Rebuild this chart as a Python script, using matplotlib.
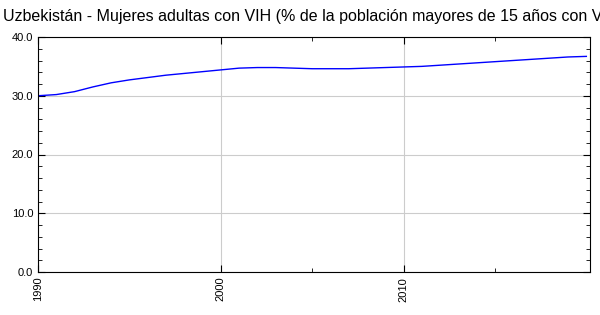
import matplotlib
matplotlib.use('Agg')
import matplotlib.pyplot as plt
from matplotlib.ticker import MultipleLocator

plt.rcParams['font.family'] = ['Liberation Sans', 'DejaVu Sans']

# datos
anios = list(range(1990, 2021))
valores = [30.0, 30.2, 30.7, 31.5, 32.2, 32.7, 33.1, 33.5, 33.8, 34.1,
           34.4, 34.7, 34.8, 34.8, 34.7, 34.6, 34.6, 34.6, 34.7, 34.8,
           34.9, 35.0, 35.2, 35.4, 35.6, 35.8, 36.0, 36.2, 36.4, 36.6, 36.7]
etiquetas_x = [1990, 2000, 2010]
titulo = 'Uzbekistán - Mujeres adultas con VIH (% de la población mayores de 15 años con VIH)'

fig = plt.figure(figsize=(6, 3.15), dpi=100)
ax = fig.add_axes([38/600, 1-272/315, 552/600, 235/315])

ax.plot(anios, valores, color='#0000ff', linewidth=1)

ax.set_xlim(1990, 2020.2)
ax.set_ylim(0, 40)
ax.set_xticks(etiquetas_x)
ax.set_xticks([2005, 2015], minor=True)
ax.yaxis.set_major_locator(MultipleLocator(10))
ax.yaxis.set_minor_locator(MultipleLocator(2))
ax.yaxis.set_major_formatter(lambda v, p: f'{v:.1f}')
ax.tick_params(which='both', direction='in', top=True, right=True, labelsize=8)
ax.tick_params(which='major', length=5)
ax.tick_params(which='minor', length=3)
ax.tick_params(axis='x', labelrotation=90)
ax.grid(True, which='major', color='#cccccc', linewidth=0.8)

fig.text(3/600, 1-17/315, titulo, fontsize=11.5, va='center', ha='left')

fig.savefig('out.png', dpi=100)
